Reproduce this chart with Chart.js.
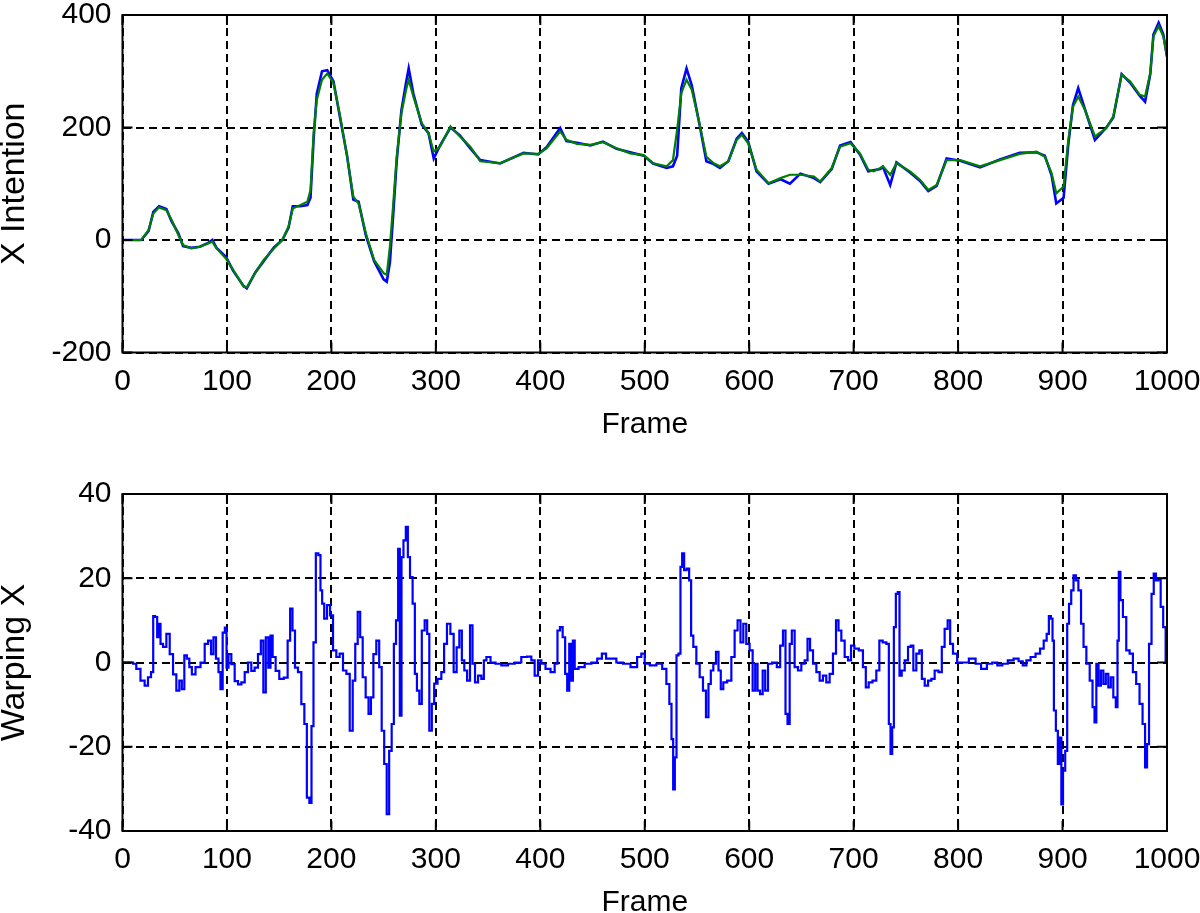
<!DOCTYPE html>
<html>
<head>
<meta charset="utf-8">
<script src="https://cdn.jsdelivr.net/npm/chart.js@4/dist/chart.umd.min.js"></script>
<style>
  html, body { margin: 0; padding: 0; background: #fff; overflow: hidden; }
  #wrap { position: relative; width: 1200px; height: 913px; }
  canvas { position: absolute; left: 0; }
  #top { top: 0; }
  #bottom { top: 456px; }
</style>
</head>
<body>
<div id="wrap">
  <canvas id="top" width="1200" height="456"></canvas>
  <canvas id="bottom" width="1200" height="457"></canvas>
</div>
<script>
// ---------- DATA ----------
const xTicks = [0, 100, 200, 300, 400, 500, 600, 700, 800, 900, 1000];
const topYTicks = [-200, 0, 200, 400];
const bottomYTicks = [-40, -20, 0, 20, 40];

const topFrames = [0, 18, 25, 29.5, 35, 42, 47, 53.5, 58, 66, 74, 82, 86, 90, 99, 106, 116, 119, 127, 135, 145, 153, 159, 163, 170, 177, 180, 183, 186, 191, 196, 202, 209, 215, 221, 226, 233, 241, 250, 253, 256, 259, 262.5, 267, 271.5, 274, 278.5, 286.5, 293, 298, 304, 314, 323, 333, 342.5, 361.5, 384, 398, 406, 419, 425, 435, 448, 460, 473, 486, 499, 508, 521, 527, 531, 535, 540, 545, 553, 559, 566, 572, 580, 588, 593, 599, 607, 618.5, 630, 639, 649, 662, 668, 679, 687, 697, 706, 714, 719, 725.5, 728, 735, 741, 754, 763.5, 771.5, 779.5, 789, 802, 821, 840, 859, 875, 883, 889.5, 894, 901, 905.5, 910, 915, 921.5, 931, 942, 948.6, 956.6, 964.6, 974, 979, 984, 987, 992, 996.5, 1000];
const intentionSmooth = [0, 0, 18, 47, 58, 53, 36, 9, -9, -15, -12, -6, -3, -15, -33, -53, -83, -84, -59, -36, -15, 0, 24, 56, 62, 68, 89, 190, 249, 285, 296, 279, 214, 148, 77, 65, 12, -36, -59, -62, -12, 59, 148, 225, 267, 285, 255, 208, 190, 157, 166, 202, 184, 166, 140, 136.5, 154, 153, 163, 193, 178, 171, 169, 174, 163, 154, 151, 136.5, 131, 142, 196, 261, 285, 267, 202, 148, 136.5, 131, 139.5, 178, 187, 172, 125, 101, 110, 116, 116, 113, 104, 128, 166, 172, 154, 125, 122, 128, 131, 116, 136.5, 122, 107, 89, 98, 142, 142, 131, 142, 153, 157, 148, 119, 83, 95, 178, 237, 255, 231, 184, 199, 220, 294, 282, 258, 255, 297, 362, 380, 362, 326];
const intentionRaw = [0, 0, 16, 50, 60, 55, 33, 12, -11, -14, -12, -5, 0, -14, -30, -55, -82, -86, -58, -38, -13, 0, 22, 60, 60, 62, 75, 180, 260, 300, 302, 282, 210, 150, 72, 68, 8, -38, -70, -74, -40, 40, 140, 230, 280, 305, 260, 205, 190, 145, 168, 200, 186, 163, 142, 136, 155, 152, 165, 199, 176, 173, 168, 175, 162, 156, 150, 136, 128, 131, 150, 270, 305, 275, 200, 140, 135, 128, 140, 180, 190, 175, 122, 100, 108, 100, 118, 110, 103, 126, 168, 174, 152, 122, 124, 126, 130, 98, 138, 120, 105, 87, 96, 145, 141, 129, 143, 155, 156, 150, 115, 65, 75, 170, 240, 270, 232, 178, 200, 218, 295, 280, 256, 246, 295, 365, 386, 365, 326];

const warpFrames = [0, 8.5, 11.6, 14.8, 19.6, 22.8, 26, 28.6, 30.2, 32.4, 34, 35.6, 37.2, 40.4, 43.6, 46.8, 50, 53.1, 55.7, 57.9, 60.5, 62.7, 65.3, 67.5, 72.3, 77.1, 80.3, 83.5, 86, 88.2, 90.8, 93, 94.6, 97.2, 98.8, 100.4, 102.6, 105.8, 109, 112.2, 115.4, 118.6, 121.7, 124.9, 128.1, 131.3, 133.6, 136.1, 138.3, 140.9, 142.5, 145, 148.2, 152, 156.8, 159.4, 161.6, 163.9, 166.4, 169.6, 172.8, 175.4, 177.6, 180.2, 181.7, 184, 186.2, 188.8, 190.3, 192, 194.2, 197.4, 200, 203.1, 206.3, 209.5, 212.7, 216, 219.1, 221.7, 224, 226.4, 228.7, 231.2, 234.4, 236.7, 239, 241.4, 244.6, 246.9, 249.4, 251.7, 254.2, 256.4, 259, 260.6, 263.1, 264.7, 266.3, 267.9, 270.1, 272.4, 274, 276.5, 279, 280.8, 283, 285.4, 287.7, 290.9, 292.5, 295, 297.3, 299.5, 303.7, 306.8, 309, 312.3, 315.5, 318.6, 321.2, 323.8, 326, 328.5, 331.4, 334, 336.2, 338.8, 342, 345.1, 346.8, 350, 354.7, 359.5, 365.9, 372.3, 378.6, 385, 389.8, 393, 396.2, 399.4, 402.6, 407.4, 412.2, 415.3, 417.6, 420.1, 422.7, 424.9, 426.6, 428.8, 430.4, 432, 433.9, 439.3, 445.7, 452.1, 456.9, 461, 464.9, 469.6, 476, 482.4, 490.3, 495.1, 498.3, 501.6, 508, 514.3, 519.1, 522.3, 524.8, 526.4, 528, 529.6, 531.2, 533.4, 535, 536.6, 538.8, 541.4, 543.6, 545.2, 547.8, 551, 554.2, 557.3, 559.9, 562.1, 564.4, 566.9, 569.5, 571.7, 573.9, 576.5, 581.3, 584.5, 587.6, 590.2, 593.1, 595.6, 598.8, 602, 604.6, 606.9, 609.1, 611.6, 614.2, 616.4, 619.6, 624.4, 628.5, 630.8, 633.9, 635.6, 637.8, 639.7, 641.9, 645.1, 648.3, 651.5, 654.7, 657, 659.5, 662.7, 665.9, 669, 672.2, 675.4, 678.6, 681.8, 684.4, 686.6, 689.8, 693, 696.2, 698.8, 702.6, 707.3, 710.5, 712.8, 716, 720.1, 723.3, 725.9, 729.7, 732.9, 734.5, 736.1, 737.7, 739.3, 741.5, 743.1, 744.7, 747.3, 750.5, 753.6, 755.9, 758.4, 761.6, 764.2, 766.4, 769.7, 772.8, 776, 779.1, 783.3, 785.5, 788.7, 791.3, 793.5, 796.7, 801.5, 806.3, 814.3, 819.2, 824.8, 830.3, 835.1, 839.9, 844.7, 850.4, 855.8, 860, 863.8, 867, 871.8, 876.5, 880.4, 883.5, 886.1, 887.7, 889.9, 890.9, 892.5, 894.7, 896.3, 898.2, 899.5, 901.4, 903.7, 905.2, 907.2, 909.4, 911.6, 913.9, 916.4, 919, 921.2, 924.4, 927.6, 929.8, 931.4, 933.3, 935.6, 937.8, 940.3, 942.5, 945.1, 947.3, 949.9, 952.1, 953.1, 954.6, 956.2, 959.4, 962.6, 965.8, 968.9, 972.1, 975.3, 977.9, 980.1, 981.7, 983.9, 986.5, 988.1, 990.6, 992.8, 995.1, 997.6, 999.8];
const warpValues = [0, 0, -0.3, -1.5, -4.3, -5.5, -3.5, -2.3, 11, 10.8, 6, 9.2, 4.4, 3.7, 6.8, 2, -2.8, -6.7, -4.3, -6.3, 1.7, 0.9, -1.1, -2.8, -1.1, 0, 4.4, 5.2, 2, 6, 0.9, -2.3, -6.3, 7.1, 8.3, -1.2, 2, -0.4, -4.4, -5.2, -4.7, -2.3, 0, -2, -1.2, 2, 5.2, -7.1, 6, -1.2, 6.4, 1.3, -2, -3.9, -3.6, 5.2, 12.8, 7.6, -1.2, -2.3, -9.9, -14.6, -32.1, -33.3, -15.1, 4.8, 25.9, 25.5, 17.1, 14, 10.4, 13.6, 11.2, 2.9, 1.3, 2.1, -1.9, -2.7, -16.2, -4.3, 4.4, 12, 6, -3.5, -8.3, -12.2, -8.3, 2, 5.2, -1.1, -16.2, -24.1, -36, -21, -14.6, 4.4, 10, 27, -12.6, 25, 29, 32.2, 25, 20.3, 14, -2.7, -6.7, -9.8, 7.6, 10, 6.8, -16.2, -9.8, -5, -3.9, -2.3, 4.4, 9.2, 6.8, -2.3, 3.6, 7.6, 0.5, -1.9, -4.3, 8.8, -0.3, -4.7, -3.1, -3.9, 0.5, 1.3, 0, -0.3, -0.7, -0.3, 0, 1.3, 1.4, 0.5, -3.1, 0.5, -0.3, -1.5, -2.3, -0.3, 7.6, 8.4, 6, -2.7, -6.7, 4.4, -4.3, 5.2, -1.5, -1.1, -0.3, 0, 0.9, 2.1, 0.9, 0.9, 0, -0.3, -1.1, 1.3, 2.1, -0.3, -0.7, -0.3, -1.5, -5.1, -9.8, -18.2, -30.1, -22.5, 1.7, 2.1, 22.7, 25.9, 21.9, 22.3, 19.5, 6.4, 3.7, -0.3, -3.5, -6.7, -13, -5.1, -1.9, -0.3, 2.5, -1.9, -6.3, -4.7, -4.3, 1.3, 7.6, 10, 4.8, 9.2, 4.4, 2.9, -6.7, -0.3, -6.7, -7.5, -1.9, -6.7, -0.3, 0, -1.1, 4, 7.6, -12.2, -14.6, 4.4, 7.6, -1.1, -1.9, -0.3, 0.5, 5.6, 2.9, -0.3, -2.3, -4.3, -3.1, -4.7, -2.7, 2.1, 10, 7.6, 5.2, 1.3, 0.5, 4, 3.3, 2.9, -1.1, -5.9, -4.7, -4.3, -1.9, 5.2, 4.8, 4.4, -14.6, -21.7, -15.4, 8.4, 16.3, 16.7, -3.1, -1.9, 0.5, 3.7, 4, -1.9, 2.1, 2.9, -3.9, -5.5, -4.3, -3.9, -1.9, -2.3, 3.7, 8, 10, 4.4, 2.1, 0, 0, 0.9, -0.3, -1.5, -0.3, 0, -0.7, -0.3, 0.5, 0.9, 0.3, -0.7, 0.5, 1.3, 2.1, 3.3, 5.2, 6.8, 11, 10.4, 5.2, -11.4, -16.2, -24.1, -17.8, -33.7, -25.7, -21, 9.2, 13.9, 17.1, 20.7, 19.5, 17.1, 9.2, 3.7, -0.3, -4.3, -10.6, -14.2, -0.3, -5.5, -1.9, -5.1, -2.7, -5.9, -3.5, -8.3, -10.6, 5.2, 21.5, 14.8, 10.8, 2.9, 2.1, -2.3, -5.1, -9.8, -14.6, -24.9, -19.4, 4.4, 16.3, 21.1, 19.5, 19.9, 13.2, 8.4, 0];

// ---------- STYLE ----------
const FONT = "'Liberation Sans', Arial, Helvetica, sans-serif";
const tickFont = { family: FONT, size: 30, lineHeight: 1 };
const yTitleFont = { family: FONT, size: 34, lineHeight: 1 };

const boxPlugin = {
  id: 'matlabBox',
  afterDatasetsDraw(chart) {
    const { ctx, chartArea: a, scales } = chart;
    const x = scales.x, y = scales.y;
    ctx.save();
    ctx.setLineDash([]);
    ctx.strokeStyle = '#000';
    ctx.lineWidth = 2;
    ctx.beginPath();
    x.ticks.forEach(t => {
      const px = x.getPixelForValue(t.value);
      ctx.moveTo(px, a.bottom); ctx.lineTo(px, a.bottom - 10);
      ctx.moveTo(px, a.top); ctx.lineTo(px, a.top + 10);
    });
    y.ticks.forEach(t => {
      const py = y.getPixelForValue(t.value);
      ctx.moveTo(a.left, py); ctx.lineTo(a.left + 10, py);
      ctx.moveTo(a.right, py); ctx.lineTo(a.right - 10, py);
    });
    ctx.stroke();
    ctx.strokeRect(a.left, a.top, a.right - a.left, a.bottom - a.top);
    ctx.restore();
  }
};

function pts(xs, ys) { return xs.map((v, i) => ({ x: v, y: ys[i] })); }
function noPad(s) { s.paddingTop = 0; s.paddingBottom = 0; s.paddingLeft = 0; s.paddingRight = 0; }

function makeOptions(cfg) {
  return {
    responsive: false,
    animation: false,
    devicePixelRatio: 1,
    layout: { padding: { top: cfg.padTop, right: 33, left: 0, bottom: 0 } },
    plugins: { legend: { display: false }, tooltip: { enabled: false } },
    elements: { point: { radius: 0 }, line: { tension: 0 } },
    scales: {
      x: {
        type: 'linear',
        min: 0, max: 1000,
        afterBuildTicks(s) { s.ticks = xTicks.map(v => ({ value: v })); },
        afterFit(s) { s.height = cfg.xHeight; noPad(s); },
        ticks: { font: tickFont, color: '#000', padding: 14, maxRotation: 0, autoSkip: false,
                 callback: v => String(v) },
        grid: { color: '#000', lineWidth: 2, drawTicks: false },
        border: { display: false, dash: [8, 5] },
        title: { display: true, text: 'Frame', color: '#000',
                 font: { family: FONT, size: 30, lineHeight: 1 },
                 padding: { top: 0, bottom: cfg.xTitlePad } }
      },
      y: {
        type: 'linear',
        min: cfg.yMin, max: cfg.yMax,
        afterBuildTicks(s) { s.ticks = cfg.yTicks.map(v => ({ value: v })); },
        afterFit(s) { s.width = 122.5; noPad(s); },
        ticks: { font: tickFont, color: '#000', padding: 11, autoSkip: false,
                 callback: v => String(v) },
        grid: { color: '#000', lineWidth: 2, drawTicks: false },
        border: { display: false, dash: [8, 5] },
        title: { display: true, text: cfg.yTitle, color: '#000',
                 font: yTitleFont, padding: { top: -2, bottom: 0 } }
      }
    }
  };
}

new Chart(document.getElementById('top'), {
  type: 'line',
  data: {
    datasets: [
      { label: 'smooth', data: pts(topFrames, intentionSmooth), borderColor: '#008000', borderWidth: 2.2, pointRadius: 0, fill: false, order: 0 },
      { label: 'raw', data: pts(topFrames, intentionRaw), borderColor: '#0000ff', borderWidth: 2.6, pointRadius: 0, fill: false, order: 1 }
    ]
  },
  options: makeOptions({ padTop: 15, xHeight: 103.5, xTitlePad: 16, yMin: -200, yMax: 400, yTicks: topYTicks, yTitle: 'X Intention' }),
  plugins: [boxPlugin]
});

new Chart(document.getElementById('bottom'), {
  type: 'line',
  data: {
    datasets: [
      { label: 'warp', data: pts(warpFrames, warpValues), borderColor: '#0000ff', borderWidth: 2.2, pointRadius: 0, fill: false, stepped: 'middle' }
    ]
  },
  options: makeOptions({ padTop: 38, xHeight: 82, xTitlePad: -5, yMin: -40, yMax: 40, yTicks: bottomYTicks, yTitle: 'Warping X' }),
  plugins: [boxPlugin]
});
</script>
</body>
</html>
